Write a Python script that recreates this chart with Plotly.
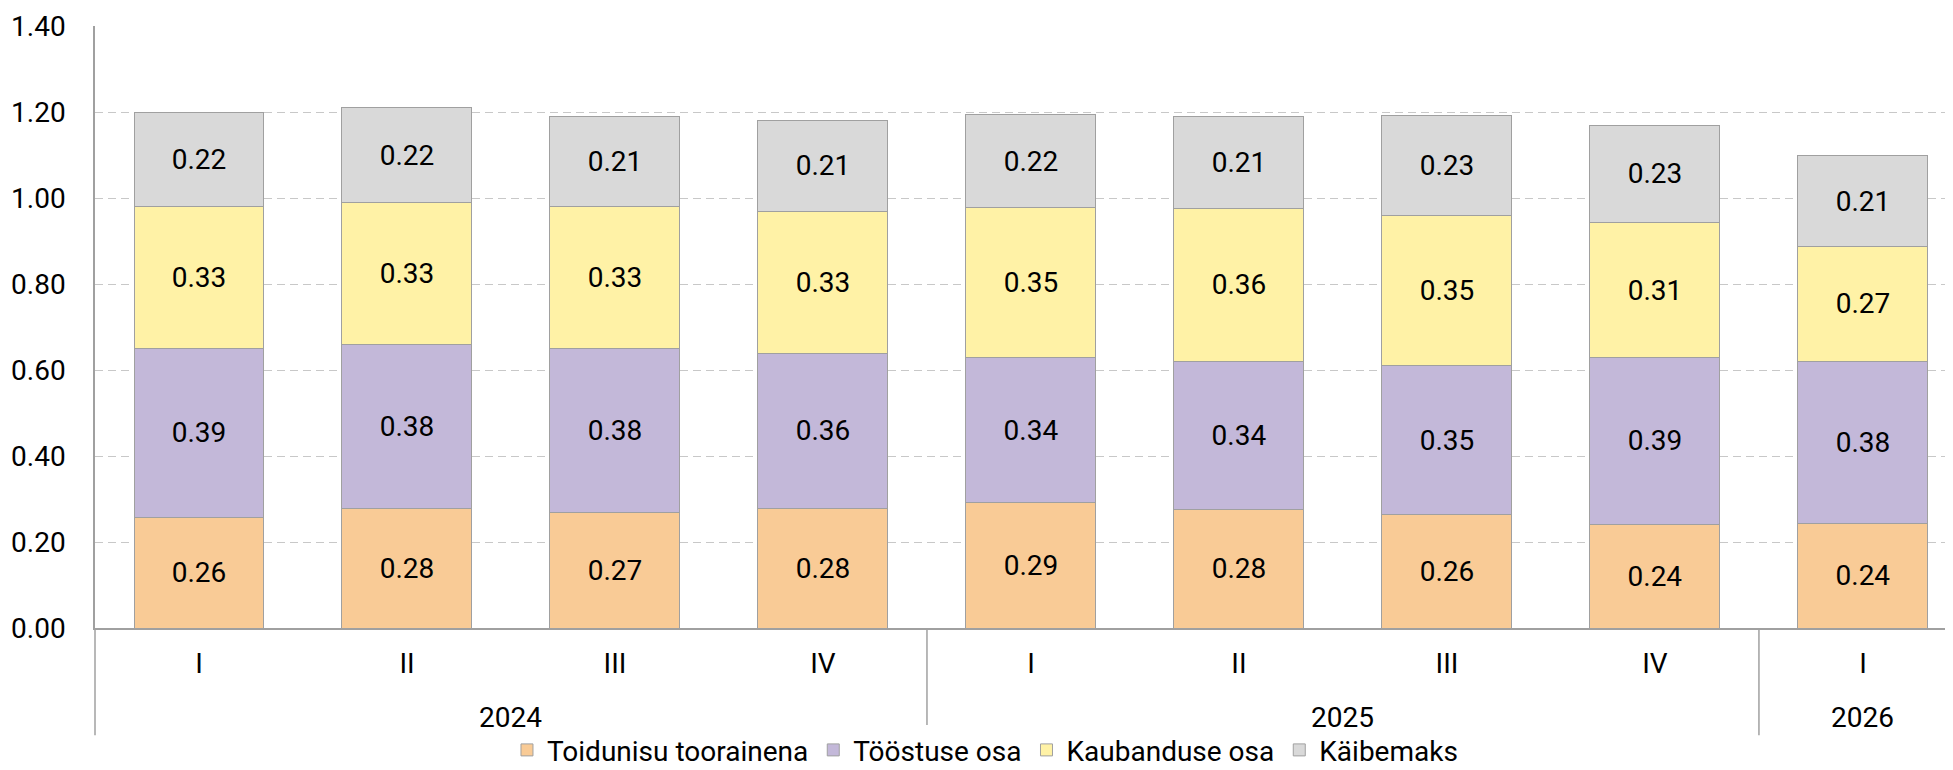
import plotly.graph_objects as go

# ---- data ----
years = ["2024", "2024", "2024", "2024", "2025", "2025", "2025", "2025", "2026"]
quarters = ["I", "II", "III", "IV", "I", "II", "III", "IV", "I"]

toidunisu = [0.258, 0.278, 0.269, 0.278, 0.291, 0.276, 0.263, 0.241, 0.243]
toostus = [0.391, 0.382, 0.381, 0.361, 0.338, 0.344, 0.347, 0.388, 0.377]
kaubandus = [0.331, 0.330, 0.330, 0.330, 0.348, 0.356, 0.350, 0.314, 0.267]
kaibemaks = [0.220, 0.220, 0.210, 0.211, 0.217, 0.214, 0.231, 0.226, 0.212]

series = [
    ("Toidunisu toorainena", toidunisu, "#F9CB96"),
    ("Tööstuse osa", toostus, "#C3B8D9"),
    ("Kaubanduse osa", kaubandus, "#FFF2A6"),
    ("Käibemaks", kaibemaks, "#D9D9D9"),
]

FONT = "Roboto"
FS = 28
x_idx = list(range(len(quarters)))
x_range = [-0.5, 8.433]

fig = go.Figure()
for name, vals, color in series:
    fig.add_trace(go.Bar(
        x=x_idx, y=vals, name=name, legendgroup=name,
        marker=dict(color=color, line=dict(color="#a0a0a0", width=1)),
        width=0.625,
        text=vals, texttemplate="%{y:.2f}",
        textposition="inside", insidetextanchor="middle",
        textfont=dict(family=FONT, size=FS, color="#000000"),
        hoverinfo="skip",
    ))

# year group labels and dividers below the axis
def to_paper(v):
    return (v - x_range[0]) / (x_range[1] - x_range[0])

groups = []
for i, y in enumerate(years):
    if not groups or groups[-1][0] != y:
        groups.append([y, i, i])
    else:
        groups[-1][2] = i

shapes = []
annotations = []
for y, start, end in groups:
    annotations.append(dict(
        x=(start + end) / 2, xref="x", y=-0.1495, yref="paper",
        text=y, showarrow=False, yanchor="middle",
        font=dict(family=FONT, size=FS, color="#000000"),
    ))
    shapes.append(dict(
        type="line", xref="paper", yref="paper",
        x0=to_paper(start - 0.5), x1=to_paper(start - 0.5),
        y0=0, y1=-0.178, line=dict(color="#a0a0a0", width=1.5),
    ))

# page body has an 8px margin, so the figure is 8px smaller and shifted
fig.update_layout(
    barmode="stack",
    width=1945, height=762,
    margin=dict(l=87, r=0, t=18, b=142, autoexpand=False),
    plot_bgcolor="white", paper_bgcolor="white",
    font=dict(family=FONT, size=FS, color="#000000"),
    shapes=shapes,
    annotations=annotations,
    legend=dict(
        orientation="h", x=0.479, xanchor="center",
        y=-0.203, yanchor="middle",
        font=dict(family=FONT, size=FS, color="#000000"),
        traceorder="grouped", tracegroupgap=22,
    ),
    xaxis=dict(
        range=x_range, tickvals=x_idx, ticktext=quarters,
        showgrid=False, showline=True, linecolor="#a0a0a0", linewidth=1.5,
        ticks="", ticklabelstandoff=10, zeroline=False, automargin=False,
        tickfont=dict(family=FONT, size=FS, color="#000000"),
    ),
    yaxis=dict(
        range=[0, 1.4], dtick=0.2, tickformat=".2f",
        showgrid=True, gridcolor="#c8c8c8", griddash="8px,5px", gridwidth=1,
        showline=True, linecolor="#a0a0a0", linewidth=1.5,
        ticks="", ticklabelstandoff=22, zeroline=False, automargin=False,
        tickfont=dict(family=FONT, size=FS, color="#000000"),
    ),
)

fig.write_html("out.html")
